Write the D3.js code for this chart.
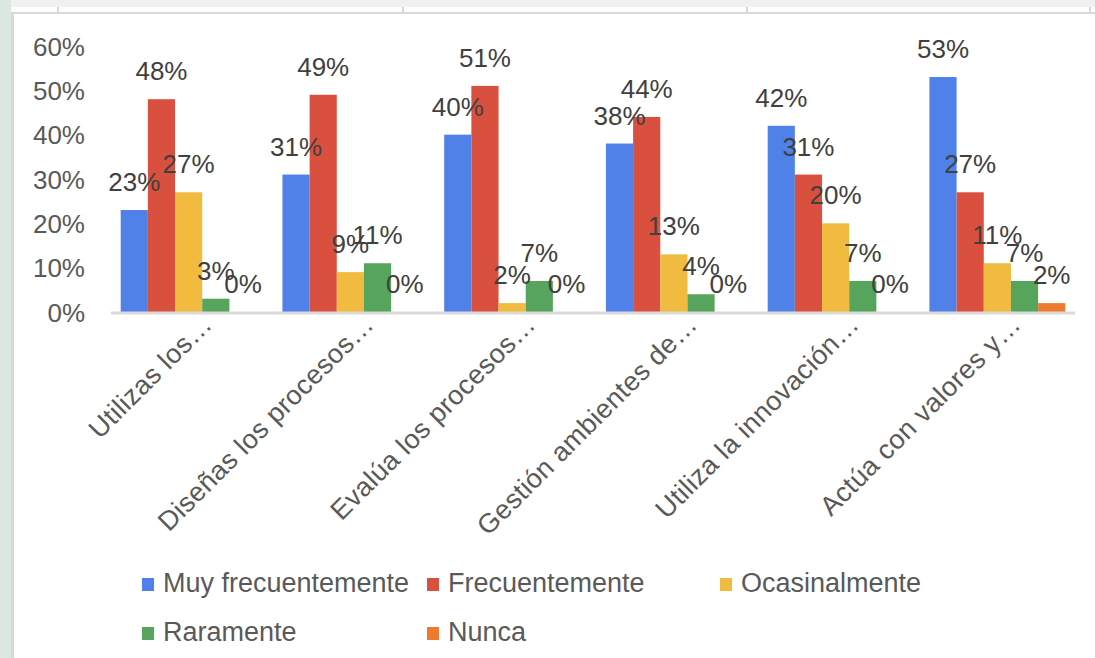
<!DOCTYPE html>
<html>
<head>
<meta charset="utf-8">
<script src="https://cdn.jsdelivr.net/npm/d3@7"></script>
<style>
  body { margin: 0; background: #fff; }
  svg { display: block; font-family: "Liberation Sans", Arial, sans-serif; }
</style>
</head>
<body>
<div id="chart"></div>
<script>
// categories (x axis, truncated like the original)
var categories = ["Utilizas los…", "Diseñas los procesos…", "Evalúa los procesos…",
  "Gestión ambientes de…", "Utiliza la innovación…", "Actúa con valores y…"];

var seriesNames = ["Muy frecuentemente", "Frecuentemente", "Ocasinalmente", "Raramente", "Nunca"];
var seriesColors = ["#4f81e8", "#d9503f", "#f0bb3f", "#57a55c", "#ee7a30"];

// values per series, one per category
var muyFrecuentemente = [0.23, 0.31, 0.40, 0.38, 0.42, 0.53];
var frecuentemente    = [0.48, 0.49, 0.51, 0.44, 0.31, 0.27];
var ocasinalmente     = [0.27, 0.09, 0.02, 0.13, 0.20, 0.11];
var raramente         = [0.03, 0.11, 0.07, 0.04, 0.07, 0.07];
var nunca             = [0.00, 0.00, 0.00, 0.00, 0.00, 0.02];

var yTicks = [0, 0.1, 0.2, 0.3, 0.4, 0.5, 0.6];

var seriesValues = [muyFrecuentemente, frecuentemente, ocasinalmente, raramente, nunca];

var width = 1095, height = 658;

var svg = d3.select("#chart").append("svg")
    .attr("width", width)
    .attr("height", height);

// screenshot frame: page background, left strip, top strip, panel border
svg.append("rect").attr("width", width).attr("height", height).attr("fill", "#eef1ef");
svg.append("rect").attr("x", 0).attr("y", 0).attr("width", 11).attr("height", height).attr("fill", "#dce7e1");
svg.append("rect").attr("x", 11).attr("y", 7).attr("width", width - 11).attr("height", 5).attr("fill", "#fdfdfd");
[58, 403, 747, 1090].forEach(function (sx) {
    svg.append("line").attr("x1", sx).attr("x2", sx).attr("y1", 7).attr("y2", 12)
        .attr("stroke", "#d6d6d6").attr("stroke-width", 2);
});
svg.append("rect").attr("x", 11).attr("y", 12).attr("width", width - 11).attr("height", height - 12).attr("fill", "#d9d9d9");
svg.append("rect").attr("x", 14).attr("y", 14).attr("width", width - 14).attr("height", height - 14).attr("fill", "#ffffff");

var x0 = d3.scaleBand()
    .domain(categories)
    .range([111, 1075])
    .paddingInner(0.16)
    .paddingOuter(0.06);

var x1 = d3.scaleBand()
    .domain(seriesNames)
    .range([0, x0.bandwidth()]);

var y = d3.scaleLinear()
    .domain([0, 0.6])
    .range([312, 46]);

var pct = d3.format(".0%");

// y axis labels (no axis line, no gridlines)
var yAxis = d3.axisLeft(y)
    .tickValues(yTicks)
    .tickFormat(pct)
    .tickSize(0)
    .tickPadding(0);

var gY = svg.append("g")
    .attr("transform", "translate(85,0)")
    .call(yAxis);
gY.select(".domain").remove();
gY.selectAll("text")
    .attr("dy", "9")
    .attr("font-size", 26)
    .attr("font-family", "Liberation Sans, Arial, sans-serif")
    .attr("fill", "#595959");

// bars
var rows = [];
seriesNames.forEach(function (s, si) {
    categories.forEach(function (c, ci) {
        rows.push({ series: s, si: si, cat: c, value: seriesValues[si][ci] });
    });
});

svg.append("g").selectAll("rect")
    .data(rows)
    .enter().append("rect")
    .attr("x", function (d) { return x0(d.cat) + x1(d.series); })
    .attr("y", function (d) { return y(d.value); })
    .attr("width", x1.bandwidth())
    .attr("height", function (d) { return y(0) - y(d.value); })
    .attr("fill", function (d) { return seriesColors[d.si]; });

// baseline
svg.append("line")
    .attr("x1", 111).attr("x2", 1075)
    .attr("y1", y(0) + 1).attr("y2", y(0) + 1)
    .attr("stroke", "#d9d9d9")
    .attr("stroke-width", 3);

// value labels
svg.append("g").selectAll("text")
    .data(rows)
    .enter().append("text")
    .attr("x", function (d) { return x0(d.cat) + x1(d.series) + x1.bandwidth() / 2; })
    .attr("y", function (d) { return y(d.value) - 19; })
    .attr("text-anchor", "middle")
    .attr("font-size", 26)
    .attr("fill", "#404040")
    .text(function (d) { return pct(d.value); });

// x axis category labels, rotated
var xAxis = d3.axisBottom(x0).tickSize(0).tickPadding(0);
var gX = svg.append("g")
    .attr("transform", "translate(0," + y(0) + ")")
    .call(xAxis);
gX.select(".domain").remove();
gX.selectAll("text")
    .attr("y", 0).attr("dy", 0)
    .attr("transform", "translate(25,14) rotate(-45)")
    .attr("text-anchor", "end")
    .attr("font-size", 27)
    .attr("letter-spacing", 0.4)
    .attr("font-family", "Liberation Sans, Arial, sans-serif")
    .attr("fill", "#595959");

// legend
var legendCols = [142, 427, 720];
var legend = svg.append("g").selectAll("g")
    .data(seriesNames)
    .enter().append("g")
    .attr("transform", function (d, i) {
        return "translate(" + legendCols[i % 3] + "," + (578 + Math.floor(i / 3) * 49) + ")";
    });

legend.append("rect")
    .attr("width", 12)
    .attr("height", 13)
    .attr("fill", function (d, i) { return seriesColors[i]; });

legend.append("text")
    .attr("x", 21)
    .attr("y", 14)
    .attr("font-size", 27)
    .attr("fill", "#595959")
    .text(function (d) { return d; });
</script>
</body>
</html>
